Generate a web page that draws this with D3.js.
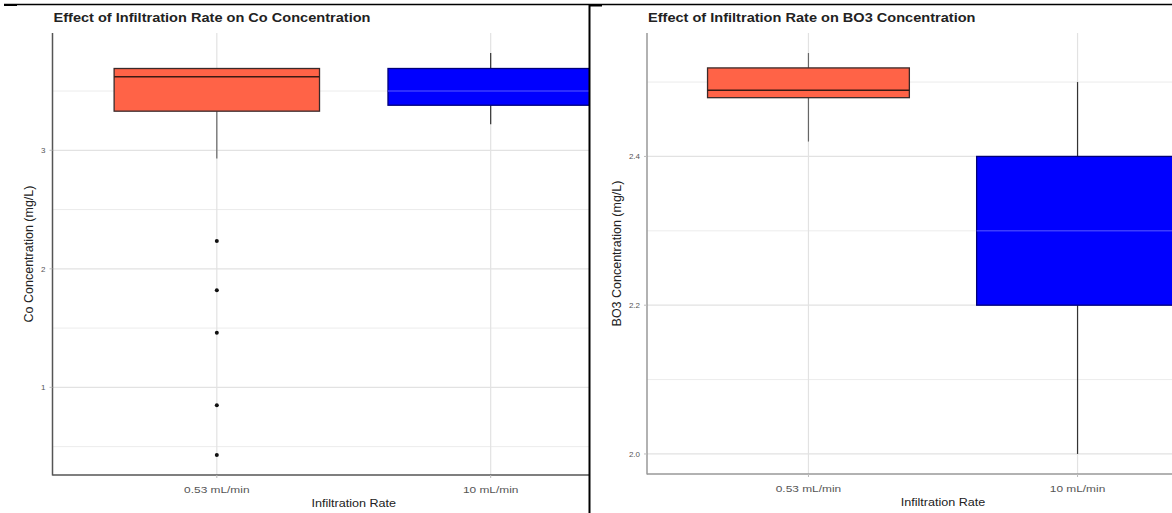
<!DOCTYPE html>
<html><head><meta charset="utf-8">
<script src="https://cdn.jsdelivr.net/npm/d3@7"></script>
<style>
html,body{margin:0;padding:0;background:#fff;}
text{font-family:"Liberation Sans",Arial,sans-serif;}
</style></head>
<body>
<svg id="c" width="1172" height="513"></svg>
<script>
// ---- data ----
const categories = ["0.53 mL/min", "10 mL/min"];
const fills = ["#FF6347", "#0000FF"];

// Co concentration boxes: [whiskerLow, q1, median, q3, whiskerHigh]
const coStats = [
  [2.93, 3.33, 3.62, 3.69, 3.69],
  [3.22, 3.38, 3.50, 3.69, 3.82]
];
const coOutliers = [[2.235, 1.82, 1.46, 0.85, 0.43], []];
const coMajorTicks = [1, 2, 3];
const coMinorTicks = [0.5, 1.5, 2.5, 3.5];
const coTickLabels = ["1", "2", "3"];

// BO3 concentration boxes
const boStats = [
  [2.42, 2.479, 2.489, 2.519, 2.539],
  [2.0, 2.2, 2.3, 2.4, 2.5]
];
const boOutliers = [[], []];
const boMajorTicks = [2.0, 2.2, 2.4];
const boMinorTicks = [2.1, 2.3, 2.5];
const boTickLabels = ["2.0", "2.2", "2.4"];

const svg = d3.select("#c");

function panel(opt) {
  const g = svg.append("g");
  const clipId = "clip" + opt.id;
  svg.append("defs").append("clipPath").attr("id", clipId)
    .append("rect").attr("x", opt.left).attr("y", 0)
    .attr("width", opt.clipRight - opt.left).attr("height", 513);

  const all = [];
  opt.stats.forEach(s => all.push(...s));
  opt.outliers.forEach(o => all.push(...o));
  const [mn, mx] = d3.extent(all);
  const pad = (mx - mn) * 0.05;
  const y = d3.scaleLinear().domain([mn - pad, mx + pad]).range([opt.bottom, opt.top]);
  const x = d3.scaleLinear().domain([0.4, categories.length + 0.6]).range([opt.left, opt.right]);
  const bw = 0.75;

  const inner = g.append("g").attr("clip-path", `url(#${clipId})`);
  inner.selectAll(".gmin").data(opt.minor).enter().append("line")
    .attr("x1", opt.left).attr("x2", opt.right)
    .attr("y1", d => y(d)).attr("y2", d => y(d))
    .attr("stroke", "#ececec").attr("stroke-width", 1);
  inner.selectAll(".gmaj").data(opt.major).enter().append("line")
    .attr("x1", opt.left).attr("x2", opt.right)
    .attr("y1", d => y(d)).attr("y2", d => y(d))
    .attr("stroke", "#e2e2e2").attr("stroke-width", 1.2);
  inner.selectAll(".gx").data(categories).enter().append("line")
    .attr("x1", (d, i) => x(i + 1)).attr("x2", (d, i) => x(i + 1))
    .attr("y1", opt.top).attr("y2", opt.bottom)
    .attr("stroke", "#e2e2e2").attr("stroke-width", 1.2);

  opt.stats.forEach((s, i) => {
    const cx = x(i + 1);
    const x0 = x(i + 1 - bw / 2), x1 = x(i + 1 + bw / 2);
    const wc = i === 0 ? "#666" : "#333";
    inner.append("line").attr("x1", cx).attr("x2", cx)
      .attr("y1", y(s[0])).attr("y2", y(s[1])).attr("stroke", wc).attr("stroke-width", 1.2);
    inner.append("line").attr("x1", cx).attr("x2", cx)
      .attr("y1", y(s[3])).attr("y2", y(s[4])).attr("stroke", wc).attr("stroke-width", 1.2);
    inner.append("rect").attr("x", x0).attr("y", y(s[3]))
      .attr("width", x1 - x0).attr("height", y(s[1]) - y(s[3]))
      .attr("fill", fills[i]).attr("stroke", i === 0 ? "#3a2a2a" : "#00007a").attr("stroke-width", 1.3);
    inner.append("line").attr("x1", x0).attr("x2", x1)
      .attr("y1", y(s[2])).attr("y2", y(s[2]))
      .attr("stroke", i === 0 ? "#3a1a14" : "#3c3cff").attr("stroke-width", 1.6);
    inner.selectAll(null).data(opt.outliers[i]).enter().append("circle")
      .attr("cx", cx).attr("cy", d => y(d)).attr("r", 2).attr("fill", "#111");
  });

  g.append("line").attr("x1", opt.left).attr("x2", opt.left)
    .attr("y1", opt.top).attr("y2", opt.bottom + 0.5)
    .attr("stroke", opt.axisColor).attr("stroke-width", 1.5);
  g.append("line").attr("x1", opt.left).attr("x2", opt.clipRight)
    .attr("y1", opt.bottom).attr("y2", opt.bottom)
    .attr("stroke", opt.axisColor).attr("stroke-width", 1.5);
  g.selectAll(".yt").data(opt.major).enter().append("text")
    .attr("x", opt.left - 7).attr("y", d => y(d) + 3)
    .attr("text-anchor", "end").attr("font-size", 8).attr("fill", "#555")
    .text((d, i) => opt.labels[i]);
  g.selectAll(".ytk").data(opt.major).enter().append("line")
    .attr("x1", opt.left - 3).attr("x2", opt.left).attr("y1", d => y(d)).attr("y2", d => y(d))
    .attr("stroke", "#bbb");
  categories.forEach((c, i) => {
    const cx = x(i + 1);
    if (cx > opt.clipRight) return;
    g.append("line").attr("x1", cx).attr("x2", cx).attr("y1", opt.bottom).attr("y2", opt.bottom + 3)
      .attr("stroke", "#bbb");
    g.append("text").attr("x", cx).attr("y", opt.bottom + 18)
      .attr("text-anchor", "middle").attr("font-size", 8.5).attr("fill", "#555")
      .attr("transform", `translate(${cx},0) scale(1.4,1) translate(${-cx},0)`)
      .text(c);
  });
  const mid = (opt.left + opt.right) / 2;
  g.append("text").attr("x", mid).attr("y", opt.bottom + 32)
    .attr("text-anchor", "middle").attr("font-size", 10.5).attr("fill", "#222")
    .attr("transform", `translate(${mid},0) scale(1.2,1) translate(${-mid},0)`)
    .text("Infiltration Rate");
  const ym = (opt.top + opt.bottom) / 2;
  g.append("text").attr("transform", `translate(${opt.ytitleX},${ym}) rotate(-90)`)
    .attr("text-anchor", "middle").attr("font-size", 12.5).attr("fill", "#222")
    .text(opt.ytitle);
  const tx = opt.left + 1;
  g.append("text").attr("x", tx).attr("y", 22)
    .attr("font-size", 13).attr("font-weight", "bold").attr("fill", "#222")
    .attr("transform", `translate(${tx},0) scale(1.12,1) translate(${-tx},0)`)
    .text(opt.title);
}

panel({
  id: 1, left: 52.5, right: 655, clipRight: 589, top: 33, bottom: 475,
  stats: coStats, outliers: coOutliers, major: coMajorTicks, minor: coMinorTicks,
  labels: coTickLabels, axisColor: "#555", ytitleX: 33,
  ytitle: "Co Concentration (mg/L)", title: "Effect of Infiltration Rate on Co Concentration"
});
panel({
  id: 2, left: 647, right: 1239, clipRight: 1172, top: 33, bottom: 474,
  stats: boStats, outliers: boOutliers, major: boMajorTicks, minor: boMinorTicks,
  labels: boTickLabels, axisColor: "#999", ytitleX: 621,
  ytitle: "BO3 Concentration (mg/L)", title: "Effect of Infiltration Rate on BO3 Concentration"
});

svg.append("line").attr("x1", 4).attr("x2", 1172).attr("y1", 4.5).attr("y2", 4.5)
  .attr("stroke", "#000").attr("stroke-width", 1.6);
svg.append("line").attr("x1", 4).attr("x2", 17).attr("y1", 5).attr("y2", 5)
  .attr("stroke", "#000").attr("stroke-width", 2);
svg.append("line").attr("x1", 589.5).attr("x2", 589.5).attr("y1", 4).attr("y2", 513)
  .attr("stroke", "#000").attr("stroke-width", 2);
svg.append("line").attr("x1", 590).attr("x2", 602).attr("y1", 5.5).attr("y2", 5.5)
  .attr("stroke", "#000").attr("stroke-width", 2);
</script>
</body></html>
